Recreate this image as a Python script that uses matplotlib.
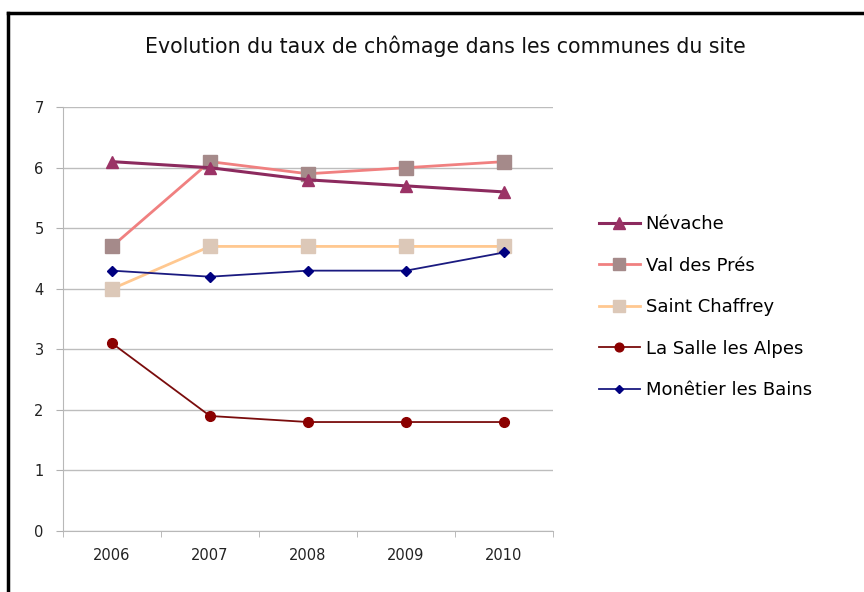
import matplotlib
matplotlib.use('Agg')
import matplotlib.pyplot as plt
from matplotlib.lines import Line2D
import numpy as np

annees = ['2006', '2007', '2008', '2009', '2010']
communes = ['Névache', 'Val des Prés', 'Saint Chaffrey', 'La Salle les Alpes', 'Monêtier les Bains']
nevache = [6.1, 6.0, 5.8, 5.7, 5.6]
val_des_pres = [4.7, 6.1, 5.9, 6.0, 6.1]
saint_chaffrey = [4.0, 4.7, 4.7, 4.7, 4.7]
la_salle = [3.1, 1.9, 1.8, 1.8, 1.8]
monetier = [4.3, 4.2, 4.3, 4.3, 4.6]

fig = plt.figure(figsize=(8.64, 5.92), dpi=100)
ax = fig.add_axes([0.073, 0.103, 0.567, 0.716])

x = np.arange(len(annees))

ax.plot(x, nevache, color='#8c2a5e', lw=2.2, marker='^', ms=9,
        mfc='#9b3366', mec='#9b3366', label=communes[0], zorder=4)
ax.plot(x, val_des_pres, color='#f08080', lw=2.0, marker='s', ms=10,
        mfc='#a58a8a', mec='#a58a8a', label=communes[1], zorder=3)
ax.plot(x, saint_chaffrey, color='#ffc890', lw=2.0, marker='s', ms=10,
        mfc='#dcc8b8', mec='#dcc8b8', label=communes[2], zorder=3)
ax.plot(x, la_salle, color='#7a0c0c', lw=1.3, marker='o', ms=7,
        mfc='#8b0000', mec='#8b0000', label=communes[3], zorder=4)
ax.plot(x, monetier, color='#1a1a80', lw=1.3, marker='D', ms=5,
        mfc='#000080', mec='#000080', label=communes[4], zorder=5)

ax.set_xlim(-0.5, 4.5)
ax.set_ylim(0, 7)
ax.set_yticks(range(0, 8))
ax.set_xticks(x)
ax.set_xticklabels(annees)
ax.set_xticks(np.arange(-0.5, 5, 1), minor=True)
ax.tick_params(axis='x', which='major', length=0, pad=12, labelsize=10.5, colors='#222222')
ax.tick_params(axis='x', which='minor', length=4, color='#b0b0b0', direction='out')
ax.tick_params(axis='y', length=5, pad=9, labelsize=10.5, colors='#222222')
ax.tick_params(axis='y', color='#b0b0b0')
ax.yaxis.grid(True, color='#bdbdbd', lw=1.0)
ax.set_axisbelow(True)
for s in ['top', 'right']:
    ax.spines[s].set_visible(False)
for s in ['left', 'bottom']:
    ax.spines[s].set_color('#b8b8b8')

fig.text(0.515, 0.922, 'Evolution du taux de chômage dans les communes du site',
         ha='center', va='center', fontsize=14.8, color='#111111')

leg = ax.legend(loc='center left', bbox_to_anchor=(1.06, 0.528), frameon=False,
                fontsize=13, handlelength=2.3, labelspacing=1.3, handletextpad=0.3,
                markerscale=0.9)

# cadre (haut et gauche)
fig.add_artist(Line2D([0.009, 1.0], [0.978, 0.978], color='black', lw=2.5, transform=fig.transFigure))
fig.add_artist(Line2D([0.009, 0.009], [0.0, 0.978], color='black', lw=2.5, transform=fig.transFigure))

fig.savefig('out.png', dpi=100, facecolor='white')
